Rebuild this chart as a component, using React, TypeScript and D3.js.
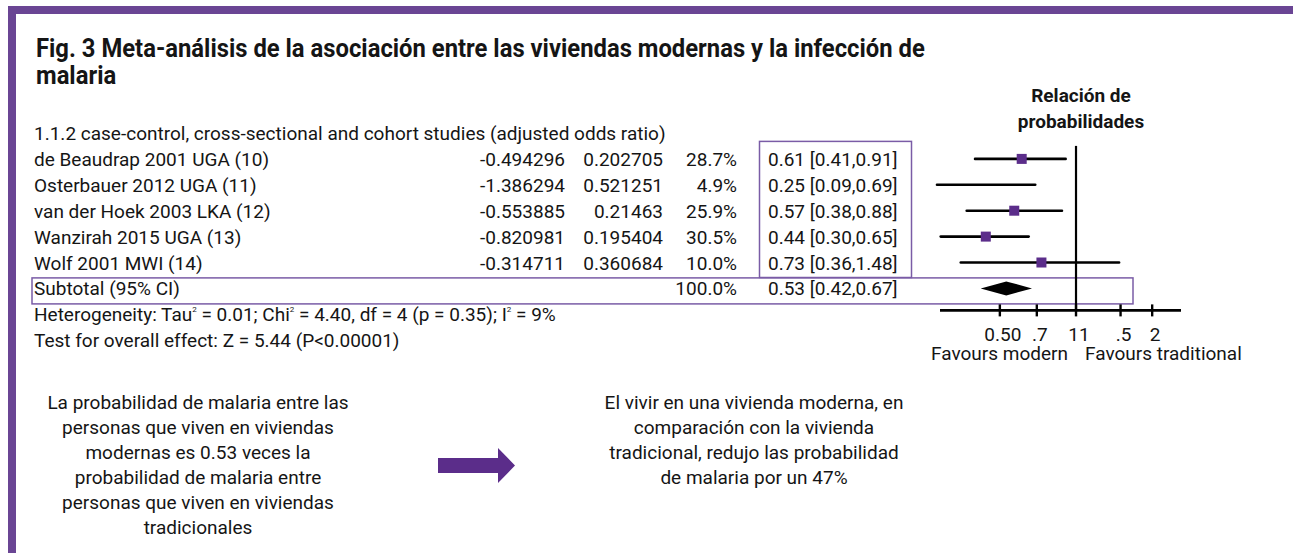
import React from 'react';
import * as d3 from 'd3';

const titleLines = [
  'Fig. 3 Meta-análisis de la asociación entre las viviendas modernas y la infección de',
  'malaria',
];
const groupHeader = '1.1.2 case-control, cross-sectional and cohort studies (adjusted odds ratio)';
const studies = [
  'de Beaudrap 2001 UGA (10)',
  'Osterbauer 2012 UGA (11)',
  'van der Hoek 2003 LKA (12)',
  'Wanzirah 2015 UGA (13)',
  'Wolf 2001 MWI (14)',
];
const logOR = ['-0.494296', '-1.386294', '-0.553885', '-0.820981', '-0.314711'];
const seLog = ['0.202705', '0.521251', '0.21463', '0.195404', '0.360684'];
const weights = ['28.7%', '4.9%', '25.9%', '30.5%', '10.0%'];
const oddsRatio = [0.61, 0.25, 0.57, 0.44, 0.73];
const ciLower = [0.41, 0.09, 0.38, 0.3, 0.36];
const ciUpper = [0.91, 0.69, 0.88, 0.65, 1.48];
const subtotalLabel = 'Subtotal (95% CI)';
const subtotalWeight = '100.0%';
const subtotalOR = [0.53];
const subtotalLower = [0.42];
const subtotalUpper = [0.67];
const tickValues = [0.5, 0.7, 1, 1.5, 2];
const tickLabels = ['0.50', '.7', '11', '.5', '2'];
const axisExtent = [0.29, 2.6];
const plotTitle = ['Relación de', 'probabilidades'];
const favours = ['Favours modern', 'Favours traditional'];
const leftNote = [
  'La probabilidad de malaria entre las',
  'personas que viven en viviendas',
  'modernas es 0.53 veces la',
  'probabilidad de malaria entre',
  'personas que viven en viviendas',
  'tradicionales',
];
const rightNote = [
  'El vivir en una vivienda moderna, en',
  'comparación con la vivienda',
  'tradicional, redujo las probabilidad',
  'de malaria por un 47%',
];

const PURPLE = '#6a4594';
const MARK = '#5b2d8a';
const BOX = '#7a5ca6';
const INK = '#151515';
const FONT = 'Roboto, "Noto Sans", sans-serif';

export default function App() {
  const W = 1293;
  const H = 553;
  const x = d3.scaleLog().domain(axisExtent).range([940, 1181]);
  const rowY = d3.scaleLinear().domain([0, 8]).range([140, 140 + 25.9 * 8]);
  const markY = (i: number) => rowY(i) - 7;
  const fmt = d3.format('.2f');
  const clampV = (v: number) => Math.max(axisExtent[0], Math.min(axisExtent[1], v));
  const fs = 19;
  const x1 = x(1);
  const axisY = rowY(6) + 15;

  const diamond = d3.line()([
    [x(subtotalLower[0]), markY(6)],
    [x(subtotalOR[0]), markY(6) - 7],
    [x(subtotalUpper[0]), markY(6)],
    [x(subtotalOR[0]), markY(6) + 7],
  ]) + 'Z';

  return (
    <svg width={W} height={H} style={{ position: 'absolute', left: 0, top: 0, background: '#fff' }}
      fontFamily={FONT}>
      <rect x={0} y={0} width={W} height={H} fill="#fff" />
      {/* frame */}
      <rect x={8} y={6} width={W - 8} height={8} fill={PURPLE} />
      <rect x={8} y={6} width={8} height={H - 6} fill={PURPLE} />

      {/* title */}
      {titleLines.map((t, i) => (
        <text key={i} transform={`translate(36,${57 + i * 27}) scale(0.953,1)`} fontSize={25}
          fontWeight={700} fill={INK}>{t}</text>
      ))}

      {/* table */}
      <g fontSize={fs} fill={INK}>
        <text x={34} y={rowY(0)}>{groupHeader}</text>
        {studies.map((s, i) => (
          <g key={s}>
            <text x={34} y={rowY(i + 1)}>{s}</text>
            <text x={565} y={rowY(i + 1)} textAnchor="end">{logOR[i]}</text>
            <text x={663} y={rowY(i + 1)} textAnchor="end">{seLog[i]}</text>
            <text x={737} y={rowY(i + 1)} textAnchor="end">{weights[i]}</text>
            <text x={768} y={rowY(i + 1)}>{`${fmt(oddsRatio[i])} [${fmt(ciLower[i])},${fmt(ciUpper[i])}]`}</text>
          </g>
        ))}
        <text x={34} y={rowY(6)}>{subtotalLabel}</text>
        <text x={737} y={rowY(6)} textAnchor="end">{subtotalWeight}</text>
        <text x={768} y={rowY(6)}>{`${fmt(subtotalOR[0])} [${fmt(subtotalLower[0])},${fmt(subtotalUpper[0])}]`}</text>
        <text x={34} y={rowY(7)}>
          Heterogeneity: Tau<tspan fontSize={8} dy={-9}>2</tspan><tspan dy={9}> = 0.01; Chi</tspan>
          <tspan fontSize={8} dy={-9}>2</tspan><tspan dy={9}> = 4.40, df = 4 (p = 0.35); I</tspan>
          <tspan fontSize={8} dy={-9}>2</tspan><tspan dy={9}> = 9%</tspan>
        </text>
        <text x={34} y={rowY(8)}>Test for overall effect: Z = 5.44 (P&lt;0.00001)</text>
      </g>

      {/* boxes */}
      <rect x={759.5} y={rowY(1) - 24.5} width={152} height={rowY(5) + 8 - (rowY(1) - 24.5)}
        fill="none" stroke={BOX} strokeWidth={1.5} />
      <rect x={32} y={rowY(6) - 17.5} width={1101} height={26}
        fill="none" stroke={BOX} strokeWidth={1.5} />

      {/* forest plot */}
      <g fontSize={fs} fill={INK} fontWeight={700} textAnchor="middle">
        {plotTitle.map((t, i) => (
          <text key={i} x={1081} y={102 + i * 26}>{t}</text>
        ))}
      </g>
      <line x1={x1} x2={x1} y1={rowY(1) - 20} y2={axisY} stroke="#000" strokeWidth={2.2} />
      {studies.map((s, i) => (
        <g key={s}>
          <line x1={x(clampV(ciLower[i])) - 3} x2={x(clampV(ciUpper[i]))} y1={markY(i + 1)} y2={markY(i + 1)}
            stroke="#000" strokeWidth={2.6} strokeLinecap="round" />
          {oddsRatio[i] >= axisExtent[0] && (
            <rect x={x(oddsRatio[i]) - 5} y={markY(i + 1) - 5} width={10} height={10} fill={MARK} />
          )}
        </g>
      ))}
      <path d={diamond} fill="#000" />
      <line x1={x(axisExtent[0])} x2={x(axisExtent[1])} y1={axisY} y2={axisY} stroke="#000" strokeWidth={2.6} />
      {tickValues.map((v, i) => (
        <g key={v}>
          <line x1={x(v)} x2={x(v)} y1={axisY - 6} y2={axisY + 6} stroke="#000" strokeWidth={2.4} />
          <text x={x(v) + 3} y={axisY + 31} fontSize={fs} textAnchor="middle" fill={INK}>{tickLabels[i]}</text>
        </g>
      ))}
      <text x={x1 - 8} y={axisY + 50} fontSize={fs} textAnchor="end" fill={INK}>{favours[0]}</text>
      <text x={x1 + 9} y={axisY + 50} fontSize={fs} fill={INK}>{favours[1]}</text>

      {/* notes */}
      <g fontSize={fs} fill={INK} textAnchor="middle">
        {leftNote.map((t, i) => (
          <text key={i} x={198} y={409 + i * 25}>{t}</text>
        ))}
        {rightNote.map((t, i) => (
          <text key={i} x={754} y={409 + i * 25}>{t}</text>
        ))}
      </g>
      <path d={d3.line()([[438, 458], [498, 458], [498, 448], [515, 465.5], [498, 483], [498, 473], [438, 473]]) + 'Z'}
        fill={MARK} />
    </svg>
  );
}
